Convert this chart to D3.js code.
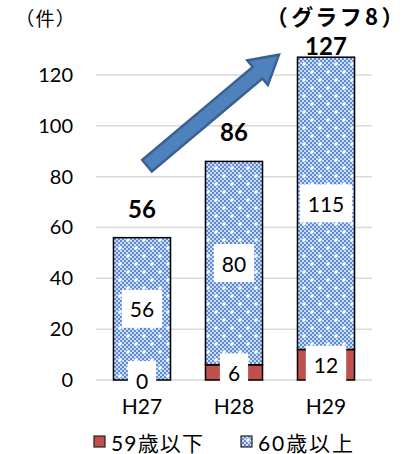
<!DOCTYPE html>
<html>
<head>
<meta charset="utf-8">
<script src="https://cdn.jsdelivr.net/npm/d3@7/dist/d3.min.js"></script>
<style>
  html, body { margin: 0; padding: 0; background: #fff; }
  svg { display: block; }
  text { font-family: Lato, "Noto Sans", "Noto Sans CJK JP", sans-serif; fill: #000; }
  .cjk { font-family: "Noto Sans CJK JP", sans-serif; font-feature-settings: "palt"; }
</style>
</head>
<body>
<svg id="chart" width="403" height="454"></svg>
<script>
// Cases per fiscal year, split by age group
const years = ["H27", "H28", "H29"];
const under59 = [0, 6, 12];
const over60 = [56, 80, 115];
const totals = [56, 86, 127];
const yTicks = [0, 20, 40, 60, 80, 100, 120];
const seriesNames = ["59歳以下", "60歳以上"];
const unitLabel = "（件）";
const titleLabel = "（グラフ8）";

const svg = d3.select("#chart");
const plot = { left: 96, right: 372, top: 75, bottom: 380 };

const x = d3.scaleBand().domain(years).range([plot.left, plot.right]).paddingInner(0.38).paddingOuter(0.19);
const y = d3.scaleLinear().domain([0, 120]).range([plot.bottom, plot.top]);

const red = "#C0504D";

// Fine blue checker with white sparkles, for the 60+ series
const defs = svg.append("defs");
const pat = defs.append("pattern").attr("id", "dots")
  .attr("patternUnits", "userSpaceOnUse").attr("width", 16).attr("height", 16);
pat.append("rect").attr("width", 16).attr("height", 16).attr("fill", "#cddcf3");
for (let i = 0; i < 8; i++) {
  for (let j = 0; j < 8; j++) {
    if ((i + j) % 2 === 0) {
      pat.append("rect").attr("x", i * 2).attr("y", j * 2).attr("width", 2).attr("height", 2).attr("fill", "#5b8ad4");
    }
  }
}
[[0, 0], [16, 0], [0, 16], [16, 16], [8, 8]].forEach(([cx, cy]) => {
  pat.append("rect").attr("x", cx - 2.5).attr("y", cy - 0.5).attr("width", 5).attr("height", 1).attr("fill", "#fff");
  pat.append("rect").attr("x", cx - 0.5).attr("y", cy - 2.5).attr("width", 1).attr("height", 5).attr("fill", "#fff");
  pat.append("rect").attr("x", cx - 1).attr("y", cy - 1).attr("width", 2).attr("height", 2).attr("fill", "#fff");
});

// Gridlines
svg.append("g").selectAll("line").data(yTicks).join("line")
  .attr("x1", plot.left).attr("x2", plot.right)
  .attr("y1", d => y(d)).attr("y2", d => y(d))
  .attr("stroke", "#d9d9d9").attr("stroke-width", 1.5);

// Y axis labels
const yAxis = svg.append("g").attr("transform", `translate(${plot.left - 23},0)`)
  .call(d3.axisLeft(y).tickValues(yTicks).tickSize(0).tickPadding(0));
yAxis.select(".domain").remove();
yAxis.selectAll("text").attr("font-size", 20).attr("font-family", "Lato, 'Noto Sans', sans-serif").attr("fill", "#000");

// X axis labels
const xAxis = svg.append("g").attr("transform", `translate(0,${plot.bottom + 19})`)
  .call(d3.axisBottom(x).tickSize(0).tickPadding(0));
xAxis.select(".domain").remove();
xAxis.selectAll("text").attr("font-size", 21).attr("font-family", "Lato, 'Noto Sans', sans-serif").attr("fill", "#000");

// Stacked bars
const rows = years.map((yr, i) => ({ yr, a: under59[i], b: over60[i], t: totals[i] }));
const bars = svg.append("g");
bars.selectAll("rect.lo").data(rows).join("rect").attr("class", "lo")
  .attr("x", d => x(d.yr)).attr("width", x.bandwidth())
  .attr("y", d => y(d.a)).attr("height", d => y(0) - y(d.a))
  .attr("fill", red).attr("stroke", "#000").attr("stroke-width", 1.5);
bars.selectAll("rect.hi").data(rows).join("rect").attr("class", "hi")
  .attr("x", d => x(d.yr)).attr("width", x.bandwidth())
  .attr("y", d => y(d.a + d.b)).attr("height", d => y(d.a) - y(d.a + d.b))
  .attr("fill", "url(#dots)").attr("stroke", "#000").attr("stroke-width", 1.5);

// Segment value labels on white boxes
const segLabels = [];
rows.forEach(d => {
  segLabels.push({ yr: d.yr, v: d.a, mid: d.a / 2 });
  segLabels.push({ yr: d.yr, v: d.b, mid: d.a + d.b / 2 });
});
const lg = svg.append("g");
segLabels.forEach(s => {
  const g = lg.append("g");
  const cx = x(s.yr) + x.bandwidth() / 2, cy = y(s.mid);
  const box = g.append("rect").attr("fill", "#fff");
  const t = g.append("text").attr("x", cx).attr("y", cy).attr("text-anchor", "middle")
    .attr("dominant-baseline", "central").attr("font-size", 21).text(s.v);
  const bb = t.node().getBBox();
  box.attr("x", cx - bb.width / 2 - 8).attr("width", bb.width + 16)
    .attr("y", cy - 19).attr("height", 38);
});

// Totals above the bars, kept clear of the title
svg.append("g").selectAll("text").data(rows).join("text")
  .attr("x", d => x(d.yr) + x.bandwidth() / 2).attr("y", d => Math.max(y(d.t) - 20, 55))
  .attr("text-anchor", "middle").attr("font-size", 24).attr("font-weight", "bold")
  .text(d => d.t);

// Upward trend arrow from H27 toward H29
(function () {
  const x0 = x("H27") + x.bandwidth() / 2 + 5, y0 = y(84.3);
  const x1 = x("H29") + x.bandwidth() / 2 - 47, y1 = y(128);
  const dx = x1 - x0, dy = y1 - y0, len = Math.hypot(dx, dy);
  const ux = dx / len, uy = dy / len, px = -uy, py = ux;
  const half = 7.5, headHalf = 16, headLen = 28;
  const p = (a, b) => [x0 + ux * a + px * b, y0 + uy * a + py * b];
  const pts = [p(0, -half), p(len - headLen, -half), p(len - headLen, -headHalf), p(len, 0),
               p(len - headLen, headHalf), p(len - headLen, half), p(0, half)];
  svg.append("polygon").attr("points", pts.map(q => q.join(",")).join(" "))
    .attr("fill", "#4F81BD").attr("stroke", "#3A6190").attr("stroke-width", 2.5)
    .attr("stroke-linejoin", "miter");
})();

// Unit and title
svg.append("text").attr("class", "cjk").attr("x", 24).attr("y", 26).attr("font-size", 19)
  .attr("letter-spacing", 2).text(unitLabel);
svg.append("text").attr("class", "cjk").attr("x", 398).attr("y", 25).attr("text-anchor", "end")
  .attr("font-size", 22).attr("font-weight", "bold").attr("letter-spacing", 4.5).text(titleLabel);

// Legend
const legend = svg.append("g");
const items = [
  { name: seriesNames[0], fill: red, sx: 94, len: 92 },
  { name: seriesNames[1], fill: "url(#dots)", sx: 241, len: 95 }
];
items.forEach(it => {
  legend.append("rect").attr("x", it.sx).attr("y", 436).attr("width", 11).attr("height", 11)
    .attr("fill", it.fill).attr("stroke", "#222").attr("stroke-width", 1.2);
  legend.append("text").attr("x", it.sx + 17).attr("y", 442).attr("dominant-baseline", "central")
    .attr("font-size", 21).attr("textLength", it.len).attr("lengthAdjust", "spacing").text(it.name);
});
</script>
</body>
</html>
